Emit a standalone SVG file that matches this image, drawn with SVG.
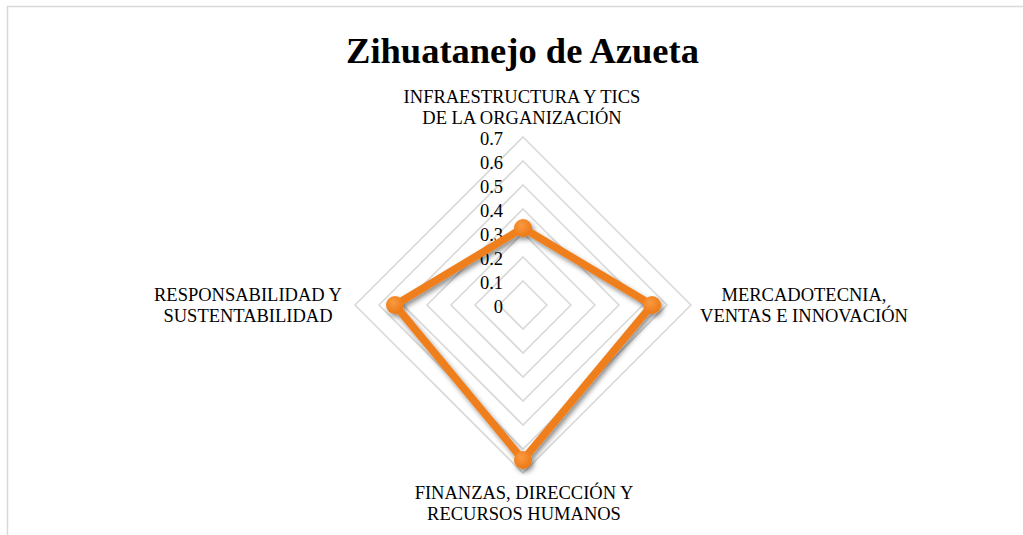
<svg xmlns="http://www.w3.org/2000/svg" width="1023" height="535" viewBox="0 0 1023 535">
<style>
text{font-family:"Liberation Serif","Times New Roman",serif;fill:#000}
.t{font-size:36.5px;font-weight:bold}
.c{font-size:18.5px;text-anchor:middle}
.s{font-size:18.5px;text-anchor:end}
.g{fill:none;stroke:#d9d9d9;stroke-width:1.6}
</style>
<defs>
<filter id="sh" x="-20%" y="-20%" width="140%" height="140%">
<feDropShadow dx="2" dy="3" stdDeviation="2.5" flood-color="#000" flood-opacity="0.45"/>
</filter>
<radialGradient id="mk" cx="0.4" cy="0.35" r="0.7">
<stop offset="0" stop-color="#f99a40"/>
<stop offset="1" stop-color="#ec7612"/>
</radialGradient>
</defs>
<rect x="0" y="0" width="1023" height="535" fill="#fff"/>
<rect x="7.5" y="6.5" width="1030" height="540" fill="none" stroke="#d9d9d9" stroke-width="1.5"/>
<text class="t" x="522.5" y="63" text-anchor="middle" font-family="Liberation Serif, serif">Zihuatanejo de Azueta</text>
<g id="grid">
<polygon class="g" points="523,281 547,305 523,329 499,305"/>
<polygon class="g" points="523,257 571,305 523,353 475,305"/>
<polygon class="g" points="523,233 595,305 523,377 451,305"/>
<polygon class="g" points="523,209 619,305 523,401 427,305"/>
<polygon class="g" points="523,185 643,305 523,425 403,305"/>
<polygon class="g" points="523,161 667,305 523,449 379,305"/>
<polygon class="g" points="523,137 691,305 523,473 355,305"/>
</g>
<g id="scale" font-family="Liberation Serif, serif">
<text class="s" x="503" y="145">0.7</text>
<text class="s" x="503" y="169">0.6</text>
<text class="s" x="503" y="193">0.5</text>
<text class="s" x="503" y="217">0.4</text>
<text class="s" x="503" y="241">0.3</text>
<text class="s" x="503" y="265">0.2</text>
<text class="s" x="503" y="289">0.1</text>
<text class="s" x="503" y="313">0</text>
</g>
<g id="series" filter="url(#sh)">
<polygon points="523,228 652,305 523,460 395,305" fill="none" stroke="#ef7f1a" stroke-width="7.5" stroke-linejoin="round"/>
<circle cx="523" cy="228" r="9" fill="url(#mk)"/>
<circle cx="652" cy="305" r="9" fill="url(#mk)"/>
<circle cx="523" cy="460" r="9" fill="url(#mk)"/>
<circle cx="395" cy="305" r="9" fill="url(#mk)"/>
</g>
<g id="label-top" font-family="Liberation Serif, serif">
<text class="c" x="522" y="103">INFRAESTRUCTURA Y TICS</text>
<text class="c" x="522" y="124">DE LA ORGANIZACIÓN</text>
</g>
<g id="label-right" font-family="Liberation Serif, serif">
<text class="c" x="804" y="301">MERCADOTECNIA,</text>
<text class="c" x="804" y="322">VENTAS E INNOVACIÓN</text>
</g>
<g id="label-bottom" font-family="Liberation Serif, serif">
<text class="c" x="524" y="499">FINANZAS, DIRECCIÓN Y</text>
<text class="c" x="524" y="520">RECURSOS HUMANOS</text>
</g>
<g id="label-left" font-family="Liberation Serif, serif">
<text class="c" x="248" y="301">RESPONSABILIDAD Y</text>
<text class="c" x="248" y="322">SUSTENTABILIDAD</text>
</g>
</svg>
